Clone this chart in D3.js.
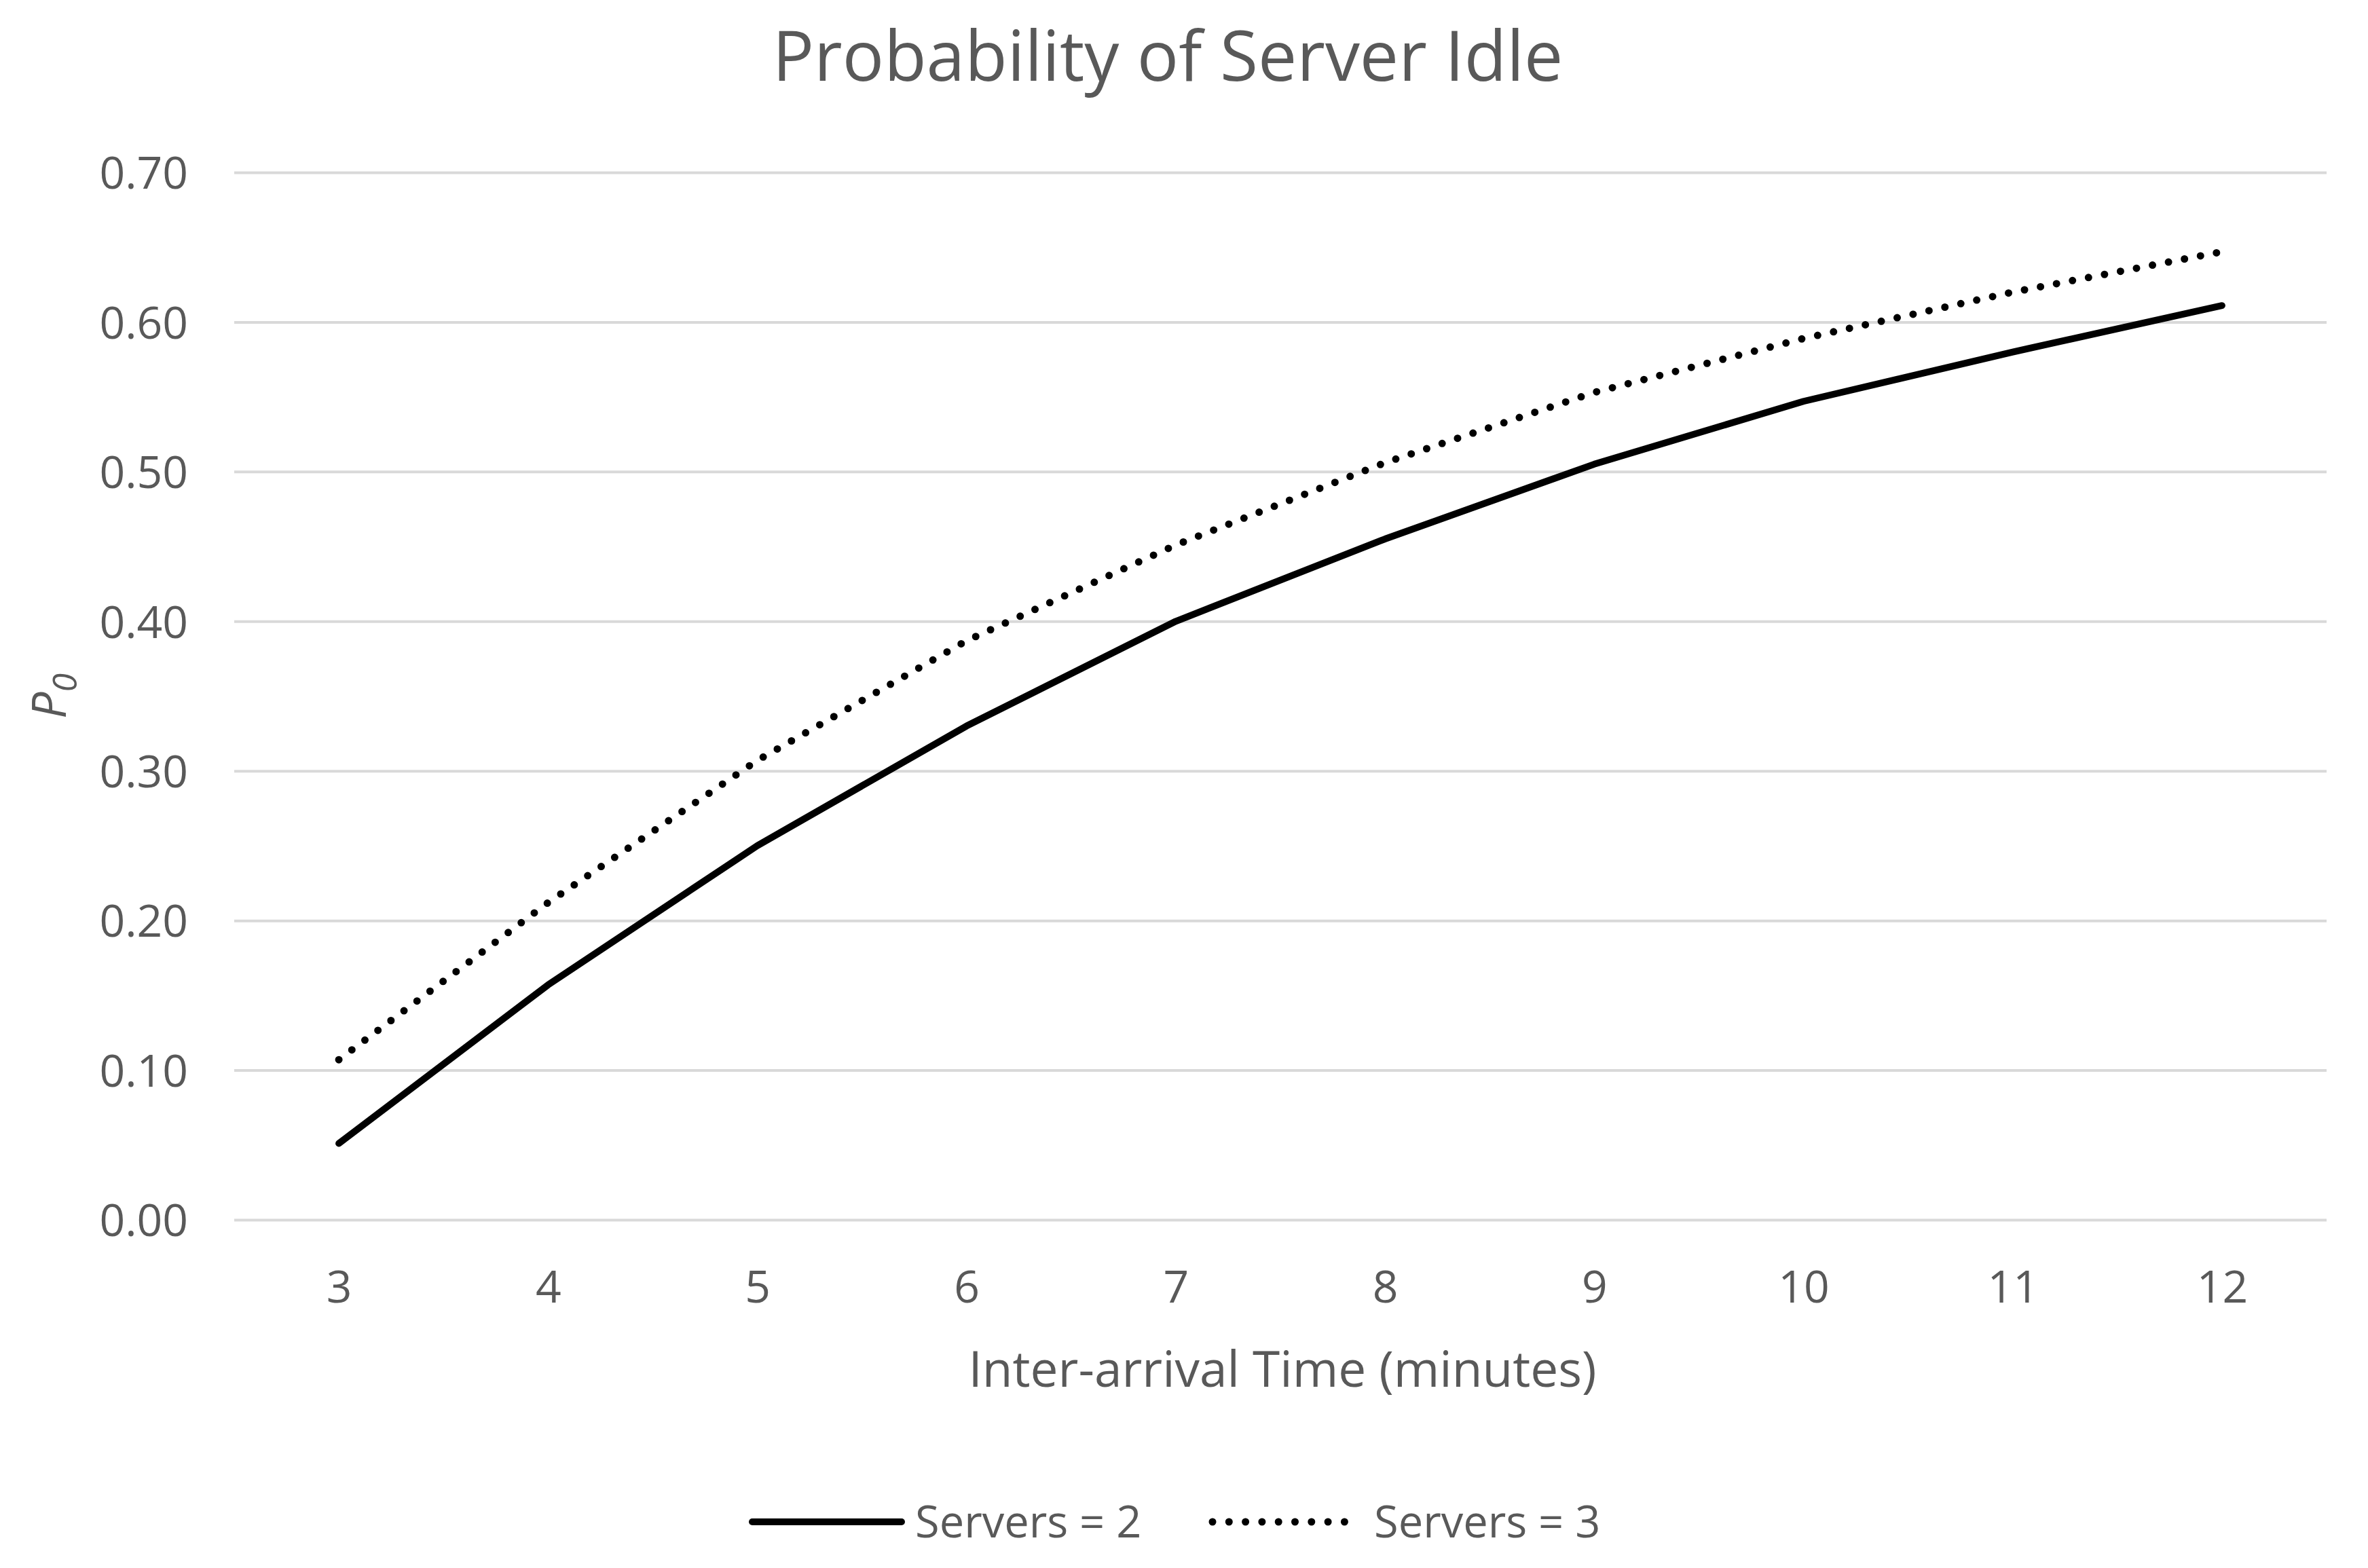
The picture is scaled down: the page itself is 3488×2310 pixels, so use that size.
<!DOCTYPE html>
<html>
<head>
<meta charset="utf-8">
<script src="https://cdn.jsdelivr.net/npm/d3@7"></script>
<style>
  html, body { margin: 0; padding: 0; background: #ffffff; }
  svg { display: block; }
  text { font-family: "Open Sans", "Noto Sans", sans-serif; }
</style>
</head>
<body>
<script>
// ---- data ----
const categories = [3, 4, 5, 6, 7, 8, 9, 10, 11, 12];
const servers2 = [0.051, 0.157, 0.250, 0.330, 0.400, 0.455, 0.505, 0.547, 0.580, 0.611];
const servers3 = [0.107, 0.212, 0.307, 0.387, 0.451, 0.506, 0.553, 0.589, 0.620, 0.647];
const yTicks = [0, 0.1, 0.2, 0.3, 0.4, 0.5, 0.6, 0.7];
const seriesNames = ["Servers = 2", "Servers = 3"];
const titleText = "Probability of Server Idle";
const xTitleText = "Inter-arrival Time (minutes)";

const W = 3488, H = 2310;
const plot = { left: 345, right: 3427, top: 254, bottom: 1797 };
const textColor = "#595959";

const svg = d3.select("body").append("svg")
  .attr("width", W).attr("height", H);

svg.append("rect").attr("width", W).attr("height", H).attr("fill", "#ffffff");

const x = d3.scalePoint().domain(categories).range([plot.left, plot.right]).padding(0.5);
const y = d3.scaleLinear().domain([0, 0.7]).range([plot.bottom, plot.top]);

// Y axis + gridlines
const yAxis = svg.append("g")
  .attr("transform", `translate(${plot.left},0)`)
  .call(d3.axisLeft(y).tickValues(yTicks).tickFormat(d3.format(".2f"))
    .tickSizeInner(-(plot.right - plot.left)).tickSizeOuter(0).tickPadding(68));
yAxis.select(".domain").remove();
yAxis.selectAll(".tick line").attr("stroke", "#d9d9d9").attr("stroke-width", 4);
yAxis.selectAll(".tick text")
  .attr("fill", textColor).style("font-size", "66px").attr("dy", "0.36em");

// X axis
const xAxis = svg.append("g")
  .attr("transform", `translate(0,${plot.bottom})`)
  .call(d3.axisBottom(x).tickSize(0).tickPadding(0));
xAxis.select(".domain").remove();
xAxis.selectAll(".tick text")
  .attr("fill", textColor).style("font-size", "66px")
  .attr("y", 122).attr("dy", null);

// Lines
const line = d3.line().x((d, i) => x(categories[i])).y(d => y(d));

svg.append("path").datum(servers2)
  .attr("d", line).attr("fill", "none").attr("stroke", "#000000")
  .attr("stroke-width", 10).attr("stroke-linecap", "round").attr("stroke-linejoin", "round");

svg.append("path").datum(servers3)
  .attr("d", line).attr("fill", "none").attr("stroke", "#000000")
  .attr("stroke-width", 11).attr("stroke-linecap", "round").attr("stroke-linejoin", "round")
  .attr("stroke-dasharray", "0 24");

// Title
svg.append("text")
  .attr("x", 1720).attr("y", 119)
  .attr("text-anchor", "middle").attr("fill", textColor)
  .style("font-size", "102px")
  .text(titleText);

// X axis title
svg.append("text")
  .attr("x", 1889).attr("y", 2043)
  .attr("text-anchor", "middle").attr("fill", textColor)
  .style("font-size", "73px")
  .text(xTitleText);

// Y axis title: P0 (italic, subscript)
const yt = svg.append("text")
  .attr("transform", `translate(97,${(plot.top + plot.bottom) / 2}) rotate(-90)`)
  .attr("text-anchor", "middle").attr("fill", textColor)
  .style("font-size", "70px").style("font-style", "italic");
yt.append("tspan").text("P");
yt.append("tspan").attr("dy", 16).style("font-size", "50px").text("0");

// Legend
const legendItems = [
  { name: seriesNames[0], x1: 1108, x2: 1328, tx: 1348, dash: null, w: 10 },
  { name: seriesNames[1], x1: 1786, x2: 1981, tx: 2024, dash: "0 24.3", w: 11 }
];
const legY = 2242;
const lg = svg.append("g");
legendItems.forEach(item => {
  lg.append("line")
    .attr("x1", item.x1).attr("x2", item.x2).attr("y1", legY).attr("y2", legY)
    .attr("stroke", "#000000").attr("stroke-width", item.w)
    .attr("stroke-linecap", "round")
    .attr("stroke-dasharray", item.dash);
  lg.append("text")
    .attr("x", item.tx).attr("y", legY).attr("dy", "0.36em")
    .attr("fill", textColor).style("font-size", "65px")
    .text(item.name);
});
</script>
</body>
</html>
